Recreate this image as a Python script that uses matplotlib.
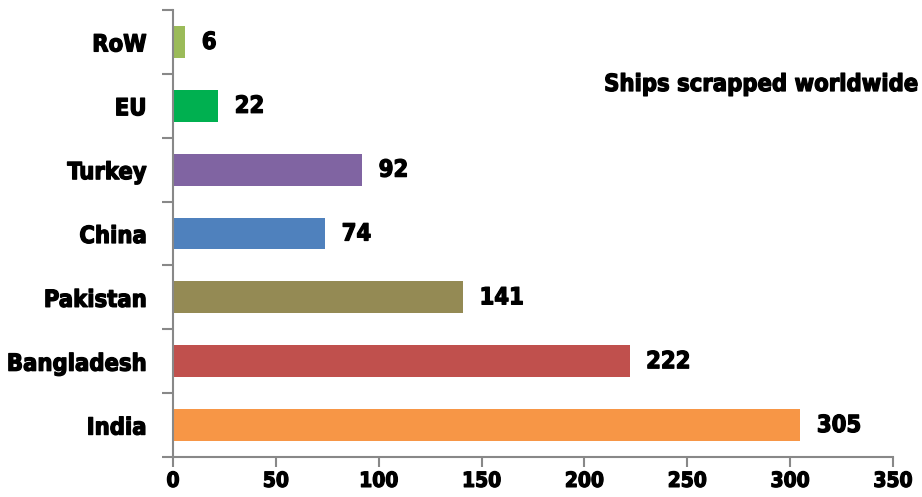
#!/usr/bin/env python3
"""Horizontal bar chart: ships scrapped worldwide by country/region."""
import matplotlib
matplotlib.use("Agg")
import matplotlib.pyplot as plt
import matplotlib.patheffects as pe
from matplotlib.ticker import FixedLocator

countries = ["India", "Bangladesh", "Pakistan", "China", "Turkey", "EU", "RoW"]
ships = [305, 222, 141, 74, 92, 22, 6]
colors = ["#F79646", "#C0504D", "#948A54", "#4F81BD", "#8064A2", "#00B050", "#9BBB59"]
x_ticks = [0, 50, 100, 150, 200, 250, 300, 350]
title = "Ships scrapped worldwide"

plt.rcParams["font.family"] = ["DejaVu Sans"]
plt.rcParams["font.weight"] = "bold"
plt.rcParams["font.stretch"] = "condensed"

# a thin outline makes the condensed bold look a bit heavier, closer to the original
heavy = [pe.withStroke(linewidth=0.9, foreground="black")]

fig = plt.figure(figsize=(9.22, 4.97), dpi=100)
ax = fig.add_axes([173 / 922, 40 / 497, 720 / 922, 447 / 497])

pos = list(range(len(countries)))
ax.barh(pos, ships, height=0.5, color=colors)
for y, v in zip(pos, ships):
    ax.text(v + 8, y, str(v), va="center", ha="left", fontsize=17,
            fontweight="bold", fontstretch="condensed", path_effects=heavy)

ax.set_xlim(0, 350)
ax.set_ylim(-0.5, len(countries) - 0.5)
ax.set_xticks(x_ticks)
ax.set_xticklabels([str(t) for t in x_ticks], fontsize=15, fontweight="bold",
                   fontstretch="condensed")
ax.set_yticks(pos)
ax.set_yticklabels(countries, fontsize=17, fontweight="bold", fontstretch="condensed")
for lbl in ax.get_xticklabels() + ax.get_yticklabels():
    lbl.set_path_effects(heavy)
ax.yaxis.set_minor_locator(FixedLocator([p - 0.5 for p in pos] + [len(pos) - 0.5]))
ax.tick_params(axis="y", which="major", length=0, pad=19)
ax.tick_params(axis="y", which="minor", length=8, width=1.5, color="#888888", direction="out")
ax.tick_params(axis="x", length=7, width=1.5, color="#888888", pad=3)

for side in ("top", "right"):
    ax.spines[side].set_visible(False)
for side in ("left", "bottom"):
    ax.spines[side].set_color("#888888")
    ax.spines[side].set_linewidth(1.5)

fig.text(918 / 922, 1 - 84 / 497, title, ha="right", va="center", fontsize=17,
         fontweight="bold", fontstretch="condensed", path_effects=heavy)

fig.savefig("out.png", dpi=100)
